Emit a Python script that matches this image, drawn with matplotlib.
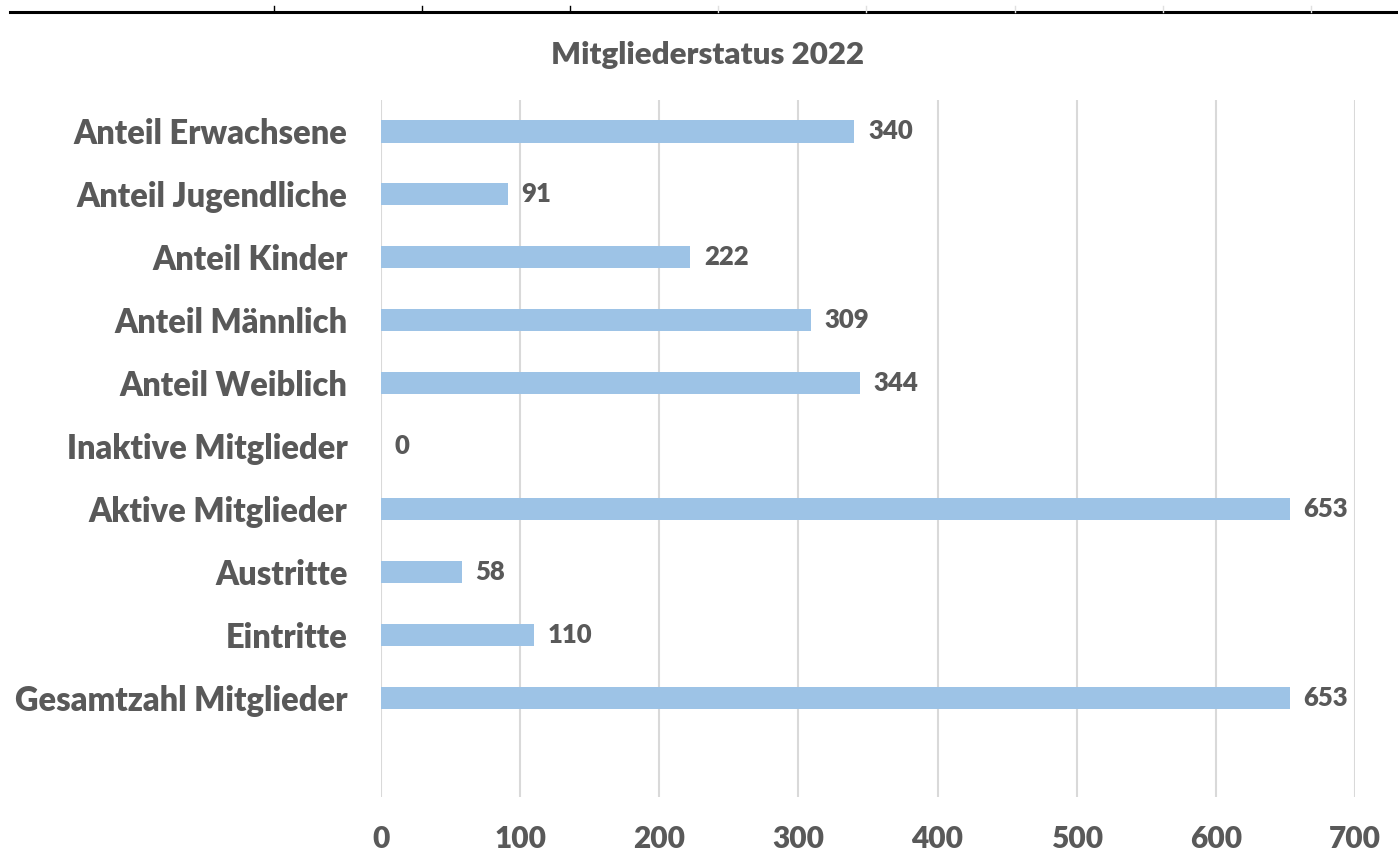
import matplotlib
matplotlib.use('Agg')
import matplotlib.pyplot as plt
from matplotlib.lines import Line2D

# Data (bottom to top as drawn)
categories = ['Gesamtzahl Mitglieder', 'Eintritte', 'Austritte', 'Aktive Mitglieder',
              'Inaktive Mitglieder', 'Anteil Weiblich', 'Anteil Männlich', 'Anteil Kinder',
              'Anteil Jugendliche', 'Anteil Erwachsene']
values = [653, 110, 58, 653, 0, 344, 309, 222, 91, 340]
x_ticks = [0, 100, 200, 300, 400, 500, 600, 700]
title = 'Mitgliederstatus 2022'

plt.rcParams['font.family'] = ['Lato', 'DejaVu Sans']
text_color = '#595959'
bar_color = '#9dc3e6'
grid_color = '#d9d9d9'
weight = 'heavy'

fig = plt.figure(figsize=(13.98, 8.68), dpi=100)
ax = fig.add_axes([381 / 1398, 1 - 797 / 868, (1355 - 381) / 1398, (797 - 100) / 868])

ypos = list(range(len(categories)))
ax.barh(ypos, values, height=0.35, color=bar_color, zorder=3)

for y, v in zip(ypos, values):
    ax.annotate(str(v), xy=(v, y), xytext=(10, 0), textcoords='offset points',
                ha='left', va='center', fontsize=18.5, fontweight=weight, color=text_color)

ax.set_xlim(0, 700)
ax.set_ylim(-1.57, 9.5)
ax.set_xticks(x_ticks)
ax.set_xticklabels([str(t) for t in x_ticks], fontsize=21.5, fontweight=weight, color=text_color)
ax.set_yticks(ypos)
ax.set_yticklabels(categories, fontsize=23.5, fontweight=weight, color=text_color)
ax.tick_params(axis='x', length=0, pad=20)
ax.tick_params(axis='y', length=0, pad=24)
ax.grid(axis='x', color=grid_color, linewidth=1.5, zorder=0)
for s in ax.spines.values():
    s.set_visible(False)

fig.text(708 / 1398, 1 - 55 / 868, title, ha='center', va='center',
         fontsize=22.5, fontweight=weight, color=text_color)

# border line across the top of the image (spreadsheet cell edge)
ytop = 1 - 12 / 868
fig.add_artist(Line2D([10 / 1398, 1], [ytop, ytop], color='black', linewidth=2.2))
for px, c in [(274, 'black'), (422, 'black'), (570, 'black'), (718, '#e0e0e0'),
              (866, '#e0e0e0'), (1015, '#e0e0e0'), (1163, '#e0e0e0'), (1311, '#e0e0e0')]:
    fig.add_artist(Line2D([px / 1398, px / 1398], [ytop, 1 - 6 / 868], color=c, linewidth=1))

fig.savefig('out.png', dpi=100)
